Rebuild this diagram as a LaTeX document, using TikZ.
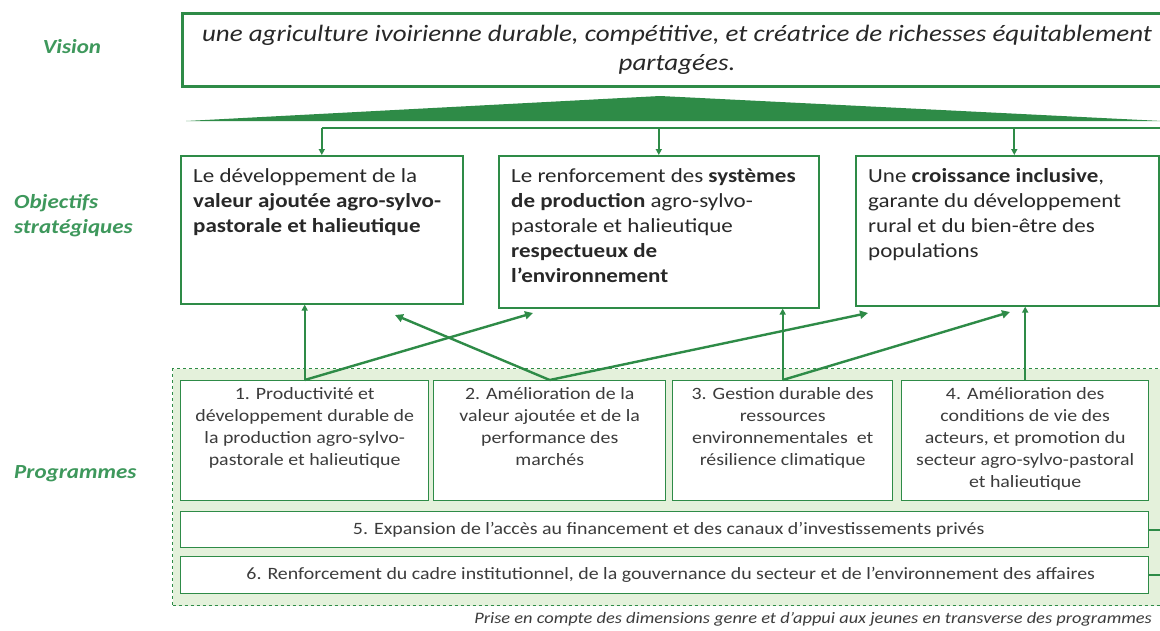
\documentclass[tikz,border=0pt]{standalone}
\usepackage{fontspec}
\setmainfont{Carlito}[FakeStretch=1.15]
\usetikzlibrary{arrows.meta,calc}
\definecolor{vgreen}{RGB}{46,139,71}
\definecolor{lgreen}{RGB}{228,241,219}
\definecolor{lblgreen}{RGB}{62,152,92}
\definecolor{txt}{RGB}{40,40,40}
\definecolor{ptxt}{RGB}{60,60,60}
\begin{document}
\begin{tikzpicture}[x=1pt,y=-1pt,
  lbl/.style={text=lblgreen, font=\bfseries\itshape\fontsize{20}{25}\selectfont, align=left, inner sep=0},
  visbox/.style={draw=vgreen, line width=3pt, fill=white, anchor=north west, inner sep=0},
  vistext/.style={text=txt, font=\itshape\fontsize{23.5}{29}\selectfont, align=center, inner sep=0},
  osbox/.style={draw=vgreen, line width=1.6pt, fill=white, anchor=north west, inner sep=0},
  ostext/.style={text=txt, font=\fontsize{20}{25}\selectfont, align=left, anchor=north west, inner sep=0},
  area/.style={draw=vgreen, line width=1.2pt, dashed, fill=lgreen, anchor=north west, inner sep=0},
  pbox/.style={draw=vgreen, line width=1.4pt, fill=white, anchor=north west, inner sep=0},
  ptext/.style={text=ptxt, font=\fontsize{17.3}{22}\selectfont, align=center, anchor=north, inner sep=0},
  conn/.style={draw=vgreen, line width=2pt},
  arr/.style={draw=vgreen, line width=2.4pt, -{Triangle[length=8pt,width=8pt]}},
  darr/.style={draw=vgreen, line width=2pt, -{Triangle[length=6pt,width=6pt]}}
]
\useasboundingbox (0,0) rectangle (1160,630);
\fill[white] (0,0) rectangle (1160,630);

% side labels
\node[lbl, anchor=center] (lvision) at (72,47) {Vision};
\node[lbl, anchor=west] (lobj) at (14,216) {Objectifs\\strat\'egiques};
\node[lbl, anchor=west] (lprog) at (14,474) {Programmes};

% vision
\node[visbox, minimum width=990pt, minimum height=73pt] (vis) at (181,12) {};
\node[vistext] (vistxt) at (677,50) {une agriculture ivoirienne durable, comp\'etitive, et cr\'eatrice de richesses \'equitablement\\partag\'ees.};
\fill[vgreen] (186,121) -- (660,96) -- (1162,121) -- cycle;

% objectives
\node[osbox, minimum width=282pt, minimum height=148pt] (os1) at (180,155) {};
\node[osbox, minimum width=320pt, minimum height=152pt] (os2) at (498,155) {};
\node[osbox, minimum width=303pt, minimum height=150pt] (os3) at (855,155) {};
\node[ostext] (os1t) at ($(os1.north west)+(13,13)$) {Le d\'eveloppement de la\\\textbf{valeur ajout\'ee agro-sylvo-}\\\textbf{pastorale et halieutique}};
\node[ostext] (os2t) at ($(os2.north west)+(13,13)$) {Le renforcement des \textbf{syst\`emes}\\\textbf{de production} agro-sylvo-\\pastorale et halieutique\\\textbf{respectueux de}\\\textbf{l'environnement}};
\node[ostext] (os3t) at ($(os3.north west)+(13,13)$) {Une \textbf{croissance inclusive},\\garante du d\'eveloppement\\rural et du bien-\^etre des\\populations};

% distribution bus
\coordinate (busR) at (1162,128);
\coordinate (bus1) at (os1.north |- busR);
\coordinate (bus3) at ($(os3.north |- busR)+(7,0)$);
\draw[conn] (busR) -- (bus1);
\draw[darr] (bus1) -- (os1.north);
\draw[darr] (os2.north |- busR) -- (os2.north);
\draw[darr] (bus3) -- (bus3 |- os3.north);

% programmes area
\node[area, minimum width=995pt, minimum height=237pt] (parea) at (172,368) {};
\node[pbox, minimum width=248pt, minimum height=120pt] (p1) at (180,380) {};
\node[pbox, minimum width=232pt, minimum height=120pt] (p2) at (433,380) {};
\node[pbox, minimum width=220pt, minimum height=120pt] (p3) at (672,380) {};
\node[pbox, minimum width=247pt, minimum height=120pt] (p4) at (901,380) {};
\node[pbox, minimum width=968pt, minimum height=36pt] (p5) at (180,511) {};
\node[pbox, minimum width=968pt, minimum height=37pt] (p6) at (180,556) {};
\node[ptext] (p1t) at ($(p1.north)+(0,7)$) {1. Productivit\'e et\\d\'eveloppement durable de\\la production agro-sylvo-\\pastorale et halieutique};
\node[ptext] (p2t) at ($(p2.north)+(0,7)$) {2. Am\'elioration de la\\valeur ajout\'ee et de la\\performance des\\march\'es};
\node[ptext] (p3t) at ($(p3.north)+(0,7)$) {3. Gestion durable des\\ressources\\environnementales~ et\\r\'esilience climatique};
\node[ptext] (p4t) at ($(p4.north)+(0,7)$) {4. Am\'elioration des\\conditions de vie des\\acteurs, et promotion du\\secteur agro-sylvo-pastoral\\et halieutique};
\node[ptext, anchor=center] (p5t) at ($(p5.center)+(4,0)$) {5. Expansion de l'acc\`es au financement et des canaux d'investissements priv\'es};
\node[ptext, anchor=center] (p6t) at ($(p6.center)+(6,0)$) {6. Renforcement du cadre institutionnel, de la gouvernance du secteur et de l'environnement des affaires};
\draw[conn] (p5.east) -- (p5.east -| parea.east);
\draw[conn] (p6.east) -- (p6.east -| parea.east);

% contribution arrows
\coordinate (t12) at (533,313);
\coordinate (t21) at (395,315);
\coordinate (t23) at (868,313);
\coordinate (t33) at (1010,312);
\draw[darr] (p1.north) -- (p1.north |- os1.south);
\draw[arr] (p1.north) -- (t12);
\draw[arr] (p2.north) -- (t21);
\draw[arr] (p2.north) -- (t23);
\draw[darr] (p3.north) -- (p3.north |- os2.south);
\draw[arr] (p3.north) -- (t33);
\draw[darr] (p4.north) -- (p4.north |- os3.south);

% caption
\node[text=ptxt, font=\itshape\fontsize{16}{18}\selectfont, anchor=base east, inner sep=0] (cap) at (1152,623) {Prise en compte des dimensions genre et d'appui aux jeunes en transverse des programmes};
\end{tikzpicture}
\end{document}
